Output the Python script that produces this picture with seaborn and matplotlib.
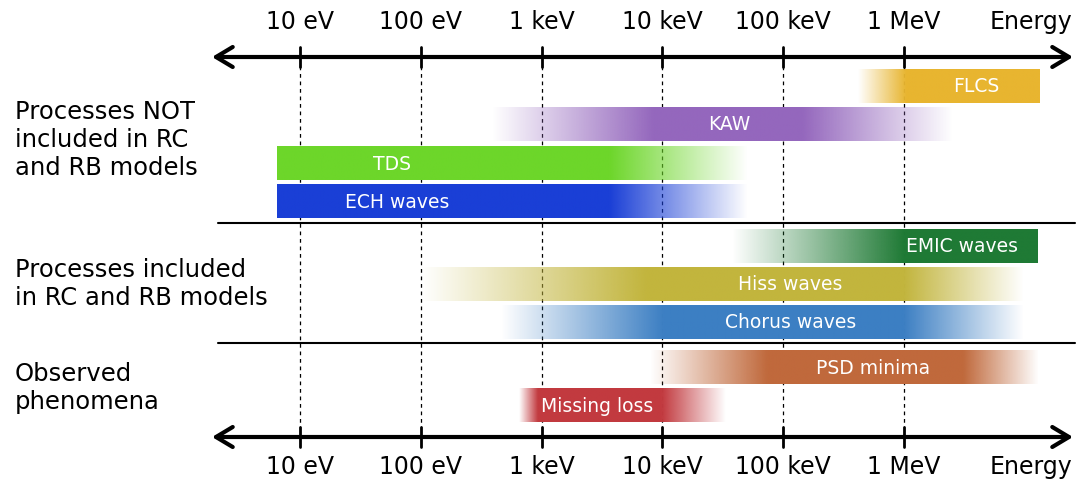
import numpy as np
import matplotlib
matplotlib.use("Agg")
import matplotlib.pyplot as plt
import seaborn as sns
from matplotlib.colors import to_rgb

sns.set_theme(style="white")
plt.rcParams['font.family'] = ['DejaVu Sans']
plt.rcParams['text.color'] = 'black'

# ---------------- data ----------------
tick_energies = [1e1, 1e2, 1e3, 1e4, 1e5, 1e6]
tick_labels = ["10 eV", "100 eV", "1 keV", "10 keV", "100 keV", "1 MeV"]
axis_title = "Energy"

names = ["FLCS", "KAW", "TDS", "ECH waves", "EMIC waves", "Hiss waves",
         "Chorus waves", "PSD minima", "Missing loss"]
# energy ranges in eV: where the fade-in starts, where full colour starts/ends, where fade-out ends
fade_start = [4.2e5, 3.9e2, 6.5e0, 6.5e0, 3.8e4, 1.0e2, 4.6e2, 7.9e3, 6.5e2]
solid_start = [1.05e6, 8.4e3, 6.5e0, 6.5e0, 1.0e6, 7.2e3, 1.0e4, 7.3e4, 9.3e2]
solid_end = [1.34e7, 1.46e5, 3.7e3, 3.7e3, 1.29e7, 1.0e6, 1.0e6, 3.1e6, 1.0e4]
fade_end = [1.34e7, 2.55e6, 5.1e4, 5.1e4, 1.29e7, 9.7e6, 9.7e6, 1.29e7, 3.36e4]
label_energy = [4.0e6, 3.6e4, 5.8e1, 6.4e1, 3.0e6, 1.15e5, 1.15e5, 5.5e5, 2.9e3]

group_labels = ["Processes NOT\nincluded in RC\nand RB models",
                "Processes included\nin RC and RB models",
                "Observed\nphenomena"]

# ---------------- styling / layout ----------------
colors = ["#E8B530", "#9467BD", "#6DD62A", "#1A3FD6", "#1F7A35", "#C2B53D",
          "#3C7FC3", "#C0693C", "#C23A3F"]
row_y = [86, 124, 163, 201, 246, 284, 322, 367, 405]   # figure pixel rows
bar_h = 34
group_y = [140, 284, 388]
sep_y = [223, 343]

W, H = 1089, 484
px_per_dec = 120.8
x0_px = 300  # pixel of 10 eV


def px2u(px):
    return 1 + (px - x0_px) / px_per_dec


fig = plt.figure(figsize=(W / 100, H / 100), dpi=100)
ax = fig.add_axes([0, 0, 1, 1])
ax.set_xlim(px2u(0), px2u(W))
ax.set_ylim(H, 0)
ax.axis("off")

# gradient bars
for i, name in enumerate(names):
    a, b, c, d = np.log10([fade_start[i], solid_start[i], solid_end[i], fade_end[i]])
    xs = np.linspace(a, d, 600)
    alpha = np.interp(xs, [a, b, c, d], [0 if b > a else 1, 1, 1, 0 if d > c else 1])
    rgb = to_rgb(colors[i])
    img = np.zeros((1, len(xs), 4))
    img[0, :, :3] = rgb
    img[0, :, 3] = alpha
    y = row_y[i]
    ax.imshow(img, extent=(a, d, y + bar_h / 2, y - bar_h / 2), aspect="auto",
              interpolation="bilinear", zorder=2)
    ax.text(np.log10(label_energy[i]), y + 1, name, color="white", fontsize=13.5,
            ha="center", va="center", zorder=4)

# dashed vertical guides and tick marks
tick_u = np.log10(tick_energies)
for u in tick_u:
    ax.plot([u, u], [66, 428], ls=(0, (3, 3)), color="black", lw=0.9, zorder=1)
    ax.plot([u, u], [47, 67], color="black", lw=2, zorder=3)
    ax.plot([u, u], [427, 447], color="black", lw=2, zorder=3)

# arrows
for ya in [57, 437]:
    ax.annotate("", xy=(px2u(1073), ya), xytext=(px2u(212), ya),
                arrowprops=dict(arrowstyle="<->,head_length=1.0,head_width=0.6",
                                lw=3, color="black", shrinkA=0, shrinkB=0), zorder=3)

# separators
for ys in sep_y:
    ax.plot([px2u(218), px2u(1075)], [ys, ys], color="black", lw=1.5, zorder=3)

# tick labels
for u, lab in zip(tick_u, tick_labels):
    ax.text(u, 22, lab, fontsize=17, ha="center", va="center", color="black")
    ax.text(u, 467, lab, fontsize=17, ha="center", va="center", color="black")
ax.text(px2u(1031), 22, axis_title, fontsize=17, ha="center", va="center", color="black")
ax.text(px2u(1031), 467, axis_title, fontsize=17, ha="center", va="center", color="black")

# group labels
for gy, gl in zip(group_y, group_labels):
    ax.text(px2u(15), gy, gl, fontsize=17.5, ha="left", va="center", linespacing=1.22,
            color="black")

fig.savefig("out.png", dpi=100)
